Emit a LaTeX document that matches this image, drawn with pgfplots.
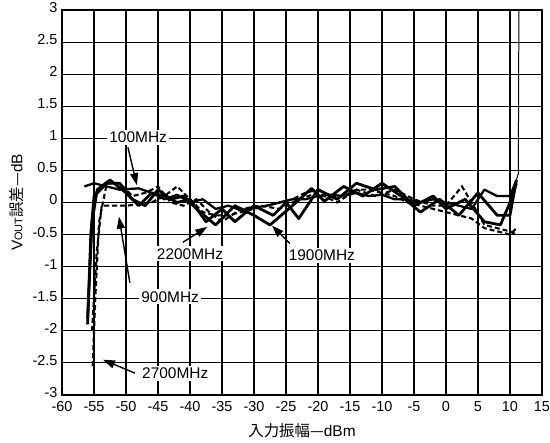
\documentclass[border=0pt]{standalone}
\usepackage{fontspec}
\setmainfont{Liberation Sans}
\newfontfamily\jp{Noto Sans CJK JP}
\usepackage{pgfplots}
\pgfplotsset{compat=1.18}
\usetikzlibrary{arrows.meta}

\begin{document}
\begin{tikzpicture}
\begin{axis}[
  name=ax,
  width=480bp, height=385bp, scale only axis,
  xmin=-60, xmax=15, ymin=-3, ymax=3,
  xtick={-60,-55,-50,-45,-40,-35,-30,-25,-20,-15,-10,-5,0,5,10,15},
  ytick={-3,-2.5,-2,-1.5,-1,-0.5,0,0.5,1,1.5,2,2.5,3},
  yticklabels={-3,-2.5,-2,-1.5,-1,-0.5,0,0.5,1,1.5,2,2.5,3},
  grid=major,
  major grid style={black, line width=1.1pt},
  axis line style={black, line width=2pt},
  tick style={draw=none},
  tick label style={font=\fontsize{14.5}{14.5}\selectfont},
  xticklabel style={yshift=-3bp},
  yticklabel style={yshift=2.5bp, xshift=-1bp},
  /pgf/number format/assume math mode=true,
  xlabel={{\jp 入力振幅—}dBm},
  ylabel={V{\fontsize{11}{11}\selectfont OUT}{\jp 誤差—}dB},
  label style={font=\fontsize{15.5}{16}\selectfont},
  xlabel style={yshift=-5bp},
  ylabel style={yshift=2bp},
]
% 100 MHz
\addplot[black, line width=2.3pt, line join=round] coordinates {
(-56.5,0.25) (-55,0.3) (-53,0.25) (-51,0.2) (-48,0.22) (-46,0.15) (-44,0.05)
(-42,0.12) (-40,0.0) (-38,0.05) (-36,-0.1) (-34,-0.05) (-32,-0.12) (-30,-0.08)
(-28,-0.05) (-26,0.0) (-24,0.05) (-22,0.05) (-20,0.1) (-18,0.12) (-16,0.1)
(-14,0.15) (-12,0.1) (-10,0.12) (-8,0.05) (-6,0.05) (-4,0.0) (-2,0.05) (0,0.0)
(2,-0.05) (4,-0.1) (6,0.2) (8,0.1) (10,0.1) (11,0.35)
};
\addplot[black, line width=1pt] coordinates {(11,0.35) (11.3,0.45) (11.4,3.3)};
% 1900 MHz
\addplot[black, line width=2.8pt, line join=round] coordinates {
(-56,-1.9) (-55.5,-0.5) (-55,0.1) (-53,0.3) (-51,0.3) (-49,0.05) (-47,-0.05)
(-45,0.2) (-43,0.05) (-41,0.1) (-39,-0.1) (-36,-0.35) (-33,-0.05) (-30,-0.2)
(-27.5,-0.35) (-24,-0.05) (-21,0.22) (-19,0.02) (-16,0.25) (-13,0.1) (-10,0.3)
(-7,0.1) (-4,-0.15) (-1,0.05) (2,-0.2) (5,0.15) (8,-0.2) (10,-0.2) (11,0.35)
};
% 2200 MHz
\addplot[black, line width=2.8pt, line join=round] coordinates {
(-56,-1.8) (-55.3,-0.3) (-54.5,0.2) (-52.5,0.35) (-50,0.15) (-48,-0.05)
(-46,0.15) (-44,0.1) (-42,0.0) (-40,0.05) (-37.5,-0.3) (-35,-0.1) (-33,-0.3)
(-30,-0.05) (-27,-0.2) (-25,0.0) (-23,-0.25) (-20,0.2) (-17,0.05) (-14,0.3)
(-11,0.2) (-8,0.25) (-5,-0.05) (-2,0.1) (0,-0.1) (3,0.05) (6,-0.3) (8.5,-0.35)
(10,0.0) (11,0.3)
};
% 900 MHz
\addplot[black, line width=2.1pt, dash pattern=on 5bp off 3bp] coordinates {
(-55.3,-2.0) (-54.6,-0.8) (-53.8,-0.05) (-50,-0.05) (-48,-0.03) (-46,0.0)
(-44,0.1) (-42,0.25) (-40,0.05) (-38,-0.15) (-36,-0.2) (-34,-0.2) (-32,-0.15)
(-30,-0.1) (-28,-0.05) (-26,0.0) (-24,0.05) (-22,0.15) (-20,0.2) (-18,0.1)
(-16,0.1) (-14,0.2) (-12,0.2) (-10,0.15) (-8,0.1) (-6,0.0) (-4,-0.05)
(-2,-0.1) (0,-0.15) (2,-0.2) (4,-0.25) (6,-0.4) (8,-0.45) (10,-0.5) (11,-0.4)
};
% 2700 MHz
\addplot[black, line width=2.1pt, dash pattern=on 5bp off 3bp] coordinates {
(-55.2,-2.55) (-54.8,-1.5) (-54.2,-0.3) (-53,0.3) (-51,0.3) (-49,0.1)
(-47,0.15) (-45,0.25) (-43,0.0) (-41,-0.05) (-39,0.05) (-37,-0.15) (-35,-0.3)
(-32,-0.1) (-29,-0.05) (-26,-0.1) (-23,0.05) (-20,0.15) (-17,0.0) (-14,0.2)
(-11,0.1) (-8,0.2) (-5,0.05) (-2,-0.05) (0,-0.05) (2.5,0.25) (4,0.0)
(6,-0.35) (8,-0.4) (10,-0.45) (11,-0.5)
};

% annotations
\tikzset{lbl/.style={fill=white, inner sep=2bp, font=\fontsize{15.5}{15.5}\selectfont},
         arr/.style={black, line width=1.4pt, -{Triangle[length=12bp,width=8bp]}}}
\node[lbl] at (axis cs:-48.1,1.02) {100MHz};
\draw[arr] (axis cs:-49.7,0.86) -- (axis cs:-48.3,0.27);
\node[lbl] at (axis cs:-43.1,-1.47) {900MHz};
\draw[arr] (axis cs:-49.4,-1.25) -- (axis cs:-51.1,-0.22);
\node[lbl] at (axis cs:-40,-0.8) {2200MHz};
\draw[arr] (axis cs:-41.1,-0.62) -- (axis cs:-37.3,-0.38);
\node[lbl] at (axis cs:-19.4,-0.82) {1900MHz};
\draw[arr] (axis cs:-24.4,-0.64) -- (axis cs:-27.2,-0.36);
\node[lbl] at (axis cs:-42.3,-2.66) {2700MHz};
\draw[arr] (axis cs:-48.6,-2.66) -- (axis cs:-53.6,-2.45);
\end{axis}
\pgfresetboundingbox
\path[use as bounding box] ([shift={(-62bp,-48bp)}]ax.south west)
  rectangle ([shift={(8bp,10bp)}]ax.north east);
\end{tikzpicture}
\end{document}
